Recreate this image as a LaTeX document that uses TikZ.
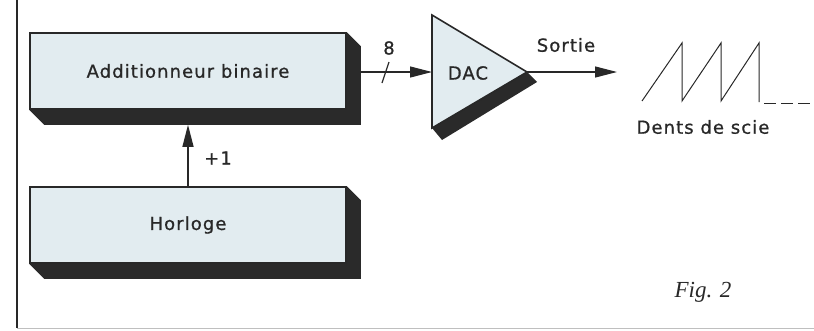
\documentclass[tikz,border=0pt]{standalone}
\usepackage{fontspec}
\newfontfamily\letterfont[LetterSpace=6, FakeBold=0.8]{DejaVu Sans}
\newfontfamily\figfont{Liberation Serif}
\usetikzlibrary{arrows.meta, calc, backgrounds}

\definecolor{panel}{RGB}{226,236,240}
\definecolor{shadowgray}{RGB}{42,42,42}
\definecolor{ink}{RGB}{40,40,40}

\tikzset{
  block/.style={draw=ink, line width=1.6pt, fill=panel, minimum width=316pt,
    minimum height=76pt, inner sep=0pt},
  txt/.style={text=ink, inner sep=0pt, font=\letterfont\fontsize{18}{21}\selectfont},
  wire/.style={draw=ink, line width=1.2pt, -{Triangle[length=22pt,width=11pt]}},
}

% drop shadow below and right of a block
\newcommand\blockshadow[1]{%
  \fill[shadowgray] (#1.north east) -- ++(14,14) -- ($(#1.south east)+(14,15)$)
    -- ($(#1.south west)+(15,15)$) -- (#1.south west) -- (#1.south east) -- cycle;}

\begin{document}
\begin{tikzpicture}[x=1pt, y=-1pt]
  \useasboundingbox (0,0) rectangle (814,330);
  % frame
  \draw[ink, line width=1.5pt] (17,0) -- (17,328);
  \draw[black!25, line width=0.8pt] (17,328) -- (814,328);

  % blocks
  \node[block] (adder) at (188,71) {};
  \node[txt] at (adder) {Additionneur binaire};
  \node[block] (clock) at (188,225) {};
  \node[txt] at (clock) {Horloge};
  \begin{scope}[on background layer]
    \blockshadow{adder}
    \blockshadow{clock}
  \end{scope}

  % DAC
  \coordinate (dacT) at (432,15);
  \coordinate (dacB) at (432,128);
  \coordinate (dacA) at (527,72);
  \coordinate (dacIn) at (432,72);
  \fill[shadowgray] (dacA) -- ++(10,10) -- ($(dacB)+(10,12)$) -- (dacB) -- cycle;
  \draw[ink, line width=1.6pt, fill=panel, line join=miter] (dacT) -- (dacA) -- (dacB) -- cycle;
  \node[txt] (dac) at (468,73) {DAC};

  % connectors
  \draw[wire] ($(adder.east)+(14,1)$) -- (dacIn);
  \draw[ink, line width=1.2pt] (382,83) -- (389,62);
  \node[txt] (width) at (389,48) {8};
  \draw[wire] (clock.north) -- ($(adder.south)+(0,15)$);
  \node[txt] (inc) at (218,158) {+1};
  \coordinate (out) at (617,72);
  \draw[wire] (dacA) -- (out);
  \node[txt] (sortie) at (566,45) {Sortie};

  % sawtooth
  \draw[ink, line width=1pt, line join=miter] (642,101) -- (682,43) -- (682,101)
    -- (721,43) -- (721,101) -- (759,43) -- (759,102);
  \draw[ink, line width=1pt, dash pattern=on 12pt off 5pt] (764,103) -- (812,103);
  \node[txt] (saw) at (703,127) {Dents de scie};

  \node[text=ink, inner sep=0pt, font=\figfont\itshape\fontsize{23}{26}\selectfont] (fig) at (703,292) {Fig. 2};
\end{tikzpicture}
\end{document}
